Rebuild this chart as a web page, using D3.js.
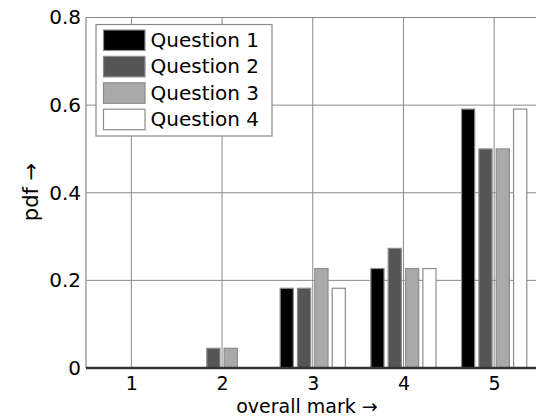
<!DOCTYPE html>
<html>
<head>
<meta charset="utf-8">
<script src="https://cdn.jsdelivr.net/npm/d3@7"></script>
<style>
  body { margin: 0; background: #fff; }
  svg { display: block; font-family: "DejaVu Sans", sans-serif; }
</style>
</head>
<body>
<svg id="chart" width="536" height="418"></svg>
<script>
// overall mark categories and pdf per question (n = 22 answers)
const marks = [1, 2, 3, 4, 5];
const questions = ["Question 1", "Question 2", "Question 3", "Question 4"];
const q1 = [0, 0, 0.182, 0.227, 0.591];
const q2 = [0, 0.045, 0.182, 0.273, 0.5];
const q3 = [0, 0.045, 0.227, 0.227, 0.5];
const q4 = [0, 0, 0.182, 0.227, 0.591];
const yTicks = [0, 0.2, 0.4, 0.6, 0.8];

const series = [q1, q2, q3, q4];
const colors = ["#000000", "#555555", "#a9a9a9", "#ffffff"];

const svg = d3.select("#chart");

// plot area runs off the right edge of the picture
const plotLeft = 86, plotRight = 539.5, plotTop = 17.5, plotBottom = 368;

const x = d3.scaleLinear().domain([0.5, 5.5]).range([plotLeft, plotRight]);
const y = d3.scaleLinear().domain([0, 0.8]).range([plotBottom, plotTop]);
const inner = d3.scaleBand().domain(d3.range(4)).range([-32.6, 32.6]).paddingInner(0.24);

// grid
svg.append("g")
  .selectAll("line")
  .data(marks)
  .join("line")
  .attr("x1", d => x(d)).attr("x2", d => x(d))
  .attr("y1", plotTop).attr("y2", plotBottom)
  .attr("stroke", "#8a8a8a").attr("stroke-width", 1);

svg.append("g")
  .selectAll("line")
  .data(yTicks.slice(1))
  .join("line")
  .attr("x1", plotLeft).attr("x2", plotRight)
  .attr("y1", d => y(d)).attr("y2", d => y(d))
  .attr("stroke", "#8a8a8a").attr("stroke-width", 1);

// frame: left and top
svg.append("line")
  .attr("x1", plotLeft).attr("x2", plotLeft).attr("y1", plotTop).attr("y2", plotBottom)
  .attr("stroke", "#888").attr("stroke-width", 1.2);
svg.append("line")
  .attr("x1", plotLeft).attr("x2", plotRight).attr("y1", plotTop).attr("y2", plotTop)
  .attr("stroke", "#888").attr("stroke-width", 1.2);

// bars
const rows = [];
series.forEach((s, qi) => s.forEach((v, mi) => rows.push({ q: qi, mark: marks[mi], v: v })));

svg.append("g")
  .selectAll("rect")
  .data(rows.filter(d => d.v > 0))
  .join("rect")
  .attr("x", d => x(d.mark) + inner(d.q))
  .attr("y", d => y(d.v))
  .attr("width", inner.bandwidth())
  .attr("height", d => y(0) - y(d.v))
  .attr("fill", d => colors[d.q])
  .attr("stroke", "#8c8c8c")
  .attr("stroke-width", 1.2);

// zero axis line
svg.append("line")
  .attr("x1", plotLeft).attr("x2", plotRight).attr("y1", y(0)).attr("y2", y(0))
  .attr("stroke", "#333").attr("stroke-width", 2.5);

// axes labels
const xAxis = d3.axisBottom(x).tickValues(marks).tickSize(0).tickPadding(9).tickFormat(d3.format("d"));
const gx = svg.append("g").attr("transform", `translate(0,${plotBottom})`).call(xAxis);
gx.select(".domain").remove();
gx.selectAll("text").attr("font-size", 19).attr("fill", "#000").attr("font-family", "DejaVu Sans");

const yAxis = d3.axisLeft(y).tickValues(yTicks).tickSize(0).tickPadding(5)
  .tickFormat(d => d === 0 ? "0" : d3.format(".1f")(d));
const gy = svg.append("g").attr("transform", `translate(${plotLeft},0)`).call(yAxis);
gy.select(".domain").remove();
gy.selectAll("text").attr("font-size", 20).attr("fill", "#000").attr("font-family", "DejaVu Sans");

svg.append("text")
  .attr("x", 307).attr("y", 413)
  .attr("text-anchor", "middle")
  .attr("font-size", 19).attr("fill", "#000")
  .text("overall mark \u2192");

svg.append("text")
  .attr("transform", "translate(38,192) rotate(-90)")
  .attr("text-anchor", "middle")
  .attr("font-size", 21).attr("fill", "#000")
  .text("pdf \u2192");

// legend
const legend = svg.append("g").attr("transform", "translate(96,24.5)");
legend.append("rect")
  .attr("width", 176).attr("height", 111.5)
  .attr("fill", "#fff").attr("stroke", "#888").attr("stroke-width", 1.2);

const items = legend.selectAll("g")
  .data(questions)
  .join("g")
  .attr("transform", (d, i) => `translate(7.5,${5.5 + i * 26.4})`);

items.append("rect")
  .attr("width", 41.5).attr("height", 20.5)
  .attr("fill", (d, i) => colors[i])
  .attr("stroke", "#8c8c8c").attr("stroke-width", 1.2);

items.append("text")
  .attr("x", 47).attr("y", 17)
  .attr("font-size", 20).attr("fill", "#000")
  .text(d => d);
</script>
</body>
</html>
